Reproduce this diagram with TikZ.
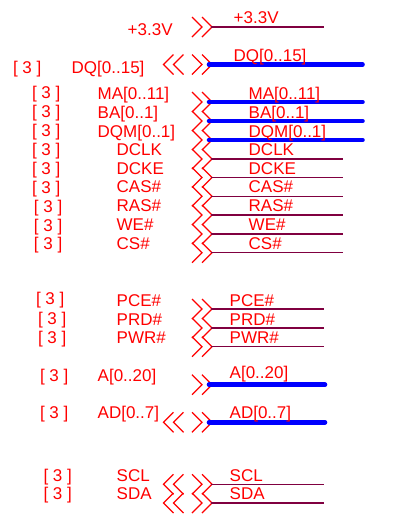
\documentclass[tikz,border=0pt]{standalone}
\usepackage{fontspec}
\setmainfont{Liberation Sans}
\definecolor{lbl}{RGB}{255,0,0}
\definecolor{wirec}{RGB}{128,0,64}
\definecolor{busc}{RGB}{0,0,255}
\tikzset{
  lab/.style={anchor=base west,inner sep=0pt,outer sep=0pt,text=lbl,font=\fontsize{17}{18}\selectfont},
  wire/.style={draw=wirec,line width=1.2pt},
  bus/.style={draw=busc,line width=4.6pt,line cap=round},
  chev/.style={draw=lbl,line width=1.3pt}
}
% \chevR{x of first chevron left}{y}: two right-pointing chevrons; \chevL: two left-pointing
\newcommand{\chevR}[2]{%
  \draw[chev] (#1,#2-10) -- (#1+10,#2) -- (#1,#2+10);
  \draw[chev] (#1+10,#2-10) -- (#1+20,#2) -- (#1+10,#2+10);}
\newcommand{\chevL}[2]{%
  \draw[chev] (#1+10,#2-10) -- (#1,#2) -- (#1+10,#2+10);
  \draw[chev] (#1+20,#2-10) -- (#1+10,#2) -- (#1+20,#2+10);}
\begin{document}
\begin{tikzpicture}[x=1pt,y=-1pt]
\useasboundingbox (0,0) rectangle (394,517);
\fill[white] (0,0) rectangle (394,517);
% chevrons
\chevR{192}{27}
\chevR{192}{64.5}\chevL{163.5}{64.5}
\foreach \y in {102,121,140,159,177.5,196.3,215,234,252.7,309,328,346.7,384.7,422.3,484.3,503}{\chevR{192}{\y}}
\chevL{163.5}{422.3}\chevL{163.5}{484.3}\chevL{163.5}{503}
% wires
\coordinate (w1a) at (211,27); \coordinate (w1b) at (324,27);
\draw[wire] (w1a) -- (w1b);
\foreach \y in {159,177.5,196.3,215,234,252.7}{\draw[wire] (211,\y) -- (343,\y);}
\foreach \y in {309,328,346.7,484.3,503}{\draw[wire] (211,\y) -- (324,\y);}
\foreach \y in {64.5,102,121,140}{\draw[bus] (209,\y) -- (362.5,\y);}
\foreach \y in {384.7,422.3}{\draw[bus] (209,\y) -- (325,\y);}
% right labels
\node[lab] (r1) at (233.7,23) {+3.3V};
\node[lab] (r2) at (233.7,61) {DQ[0..15]};
\node[lab] (r3) at (248.7,99) {MA[0..11]};
\node[lab] (r4) at (248.7,118) {BA[0..1]};
\node[lab] (r5) at (248.7,137) {DQM[0..1]};
\node[lab] (r6) at (248.7,155) {DCLK};
\node[lab] (r7) at (248.7,174) {DCKE};
\node[lab] (r8) at (248.7,192.7) {CAS\#};
\node[lab] (r9) at (248.7,211.5) {RAS\#};
\node[lab] (r10) at (248.7,230) {WE\#};
\node[lab] (r11) at (248.7,249) {CS\#};
\node[lab] (r12) at (229.7,306) {PCE\#};
\node[lab] (r13) at (229.7,325) {PRD\#};
\node[lab] (r14) at (229.7,343.5) {PWR\#};
\node[lab] (r15) at (229.7,378) {A[0..20]};
\node[lab] (r16) at (229.7,418) {AD[0..7]};
\node[lab] (r17) at (229.7,481) {SCL};
\node[lab] (r18) at (229.7,499.5) {SDA};
% middle labels
\node[lab] (m1) at (127.7,35) {+3.3V};
\node[lab] (m2) at (71.7,73) {DQ[0..15]};
\node[lab] (m3) at (97.7,99) {MA[0..11]};
\node[lab] (m4) at (97.7,118) {BA[0..1]};
\node[lab] (m5) at (97.7,137) {DQM[0..1]};
\node[lab] (m6) at (116.7,155) {DCLK};
\node[lab] (m7) at (116.7,174) {DCKE};
\node[lab] (m8) at (116.7,192.7) {CAS\#};
\node[lab] (m9) at (116.7,211.5) {RAS\#};
\node[lab] (m10) at (116.7,230) {WE\#};
\node[lab] (m11) at (116.7,249) {CS\#};
\node[lab] (m12) at (116.7,306) {PCE\#};
\node[lab] (m13) at (116.7,325) {PRD\#};
\node[lab] (m14) at (116.7,343.5) {PWR\#};
\node[lab] (m15) at (97.7,381) {A[0..20]};
\node[lab] (m16) at (97.7,418) {AD[0..7]};
\node[lab] (m17) at (116.7,481) {SCL};
\node[lab] (m18) at (116.7,499.5) {SDA};
% page refs
\node[lab] (p2) at (13,73) {[ 3 ]};
\node[lab] (p3) at (32,98.5) {[ 3 ]};
\node[lab] (p4) at (32,117.5) {[ 3 ]};
\node[lab] (p5) at (32,136.5) {[ 3 ]};
\node[lab] (p6) at (32,155.5) {[ 3 ]};
\node[lab] (p7) at (32,174.5) {[ 3 ]};
\node[lab] (p8) at (32,193.5) {[ 3 ]};
\node[lab] (p9) at (34,212.5) {[ 3 ]};
\node[lab] (p10) at (34,231.5) {[ 3 ]};
\node[lab] (p11) at (34,249.5) {[ 3 ]};
\node[lab] (p12) at (36,304) {[ 3 ]};
\node[lab] (p13) at (38,324) {[ 3 ]};
\node[lab] (p14) at (38,343) {[ 3 ]};
\node[lab] (p15) at (40,381) {[ 3 ]};
\node[lab] (p16) at (40,418) {[ 3 ]};
\node[lab] (p17) at (43.5,481) {[ 3 ]};
\node[lab] (p18) at (43.5,499.5) {[ 3 ]};
\end{tikzpicture}
\end{document}
